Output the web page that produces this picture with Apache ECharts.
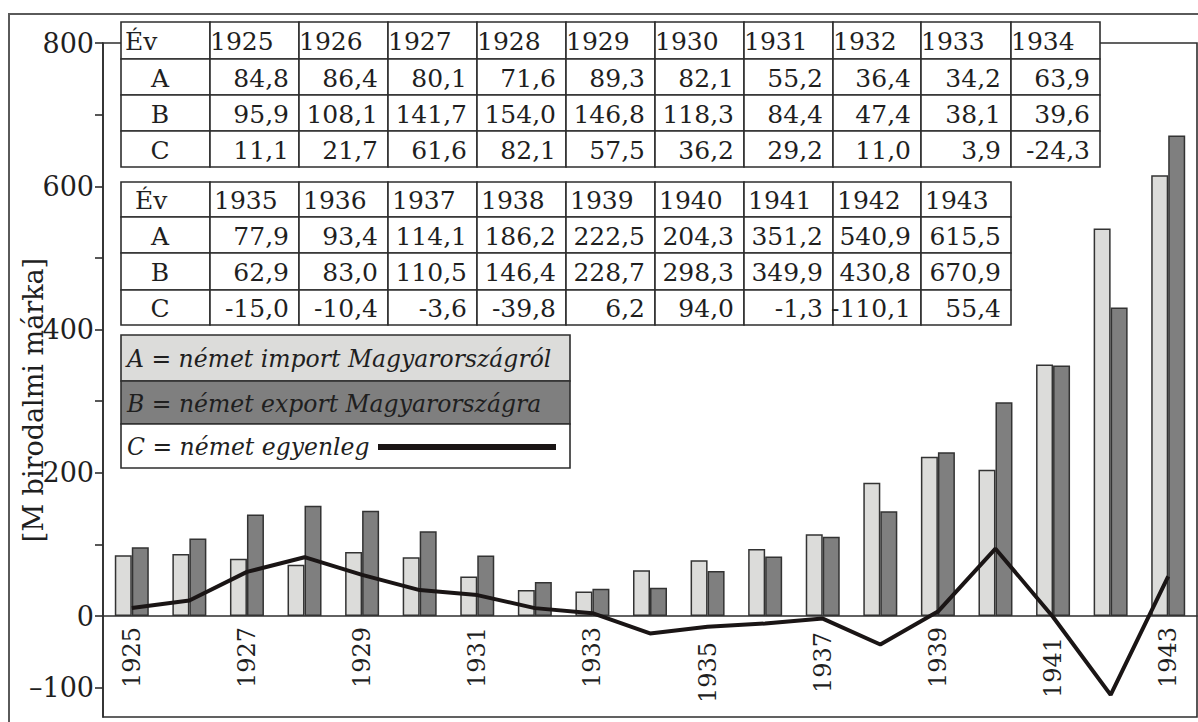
<!DOCTYPE html>
<html>
<head>
<meta charset="utf-8">
<script src="https://cdn.jsdelivr.net/npm/echarts@6/dist/echarts.min.js"></script>
<style>
html,body{margin:0;padding:0;background:#fff;}
#chart{width:1198px;height:722px;}
</style>
</head>
<body>
<div id="chart"></div>
<script>
// ---- data ----
const years = ['1925','1926','1927','1928','1929','1930','1931','1932','1933','1934','1935','1936','1937','1938','1939','1940','1941','1942','1943'];
const importA = [84.8, 86.4, 80.1, 71.6, 89.3, 82.1, 55.2, 36.4, 34.2, 63.9, 77.9, 93.4, 114.1, 186.2, 222.5, 204.3, 351.2, 540.9, 615.5];
const exportB = [95.9, 108.1, 141.7, 154.0, 146.8, 118.3, 84.4, 47.4, 38.1, 39.6, 62.9, 83.0, 110.5, 146.4, 228.7, 298.3, 349.9, 430.8, 670.9];
const balanceC = [11.1, 21.7, 61.6, 82.1, 57.5, 36.2, 29.2, 11.0, 3.9, -24.3, -15.0, -10.4, -3.6, -39.8, 6.2, 94.0, -1.3, -110.1, 55.4];
const yTickValues = [-100, 0, 100, 200, 300, 400, 500, 600, 700, 800];
const yLabelValues = [-100, 0, 200, 400, 600, 800];
const rowLabels = ['Év', 'A', 'B', 'C'];
const legendLabels = ['A = német import Magyarországról', 'B = német export Magyarországra', 'C = német egyenleg'];
const yAxisName = '[M birodalmi márka]';
const Y_MIN = -141, Y_MAX = 800;

// ---- layout ----
const SERIF = '"DejaVu Serif", "Liberation Serif", serif';
const INK = '#1f1f1f';
const LINE = '#2e2e2e';
const colEdges = [121, 210, 299, 388, 477, 566, 655, 744, 833, 921, 1011, 1100];
const table1Rows = [22, 59, 95, 131, 167];
const table2Rows = [182, 217, 253, 290, 325];
const labelShift = {'1931': 0, '1935': 15, '1937': 5, '1941': 10};

function fmt(v) { return v.toFixed(1).replace('.', ','); }

const graphics = [];
// outer frame
graphics.push({type:'rect', shape:{x:9, y:14, width:1200, height:720}, style:{fill:'none', stroke:'#5a5a5a', lineWidth:2}, z:1, silent:true});

function buildTable(start, count, rows, headerMode) {
  for (let r = 0; r < 4; r++) {
    const y0 = rows[r], h = rows[r+1] - rows[r];
    const yc = y0 + h / 2 + 1;
    for (let c = 0; c <= count; c++) {
      const x0 = colEdges[c], w = colEdges[c+1] - colEdges[c];
      graphics.push({type:'rect', shape:{x:x0, y:y0, width:w, height:h},
        style:{fill:'#fff', stroke:LINE, lineWidth:1.6}, z:100, silent:true});
      let text, x, align;
      if (c === 0) {
        text = rowLabels[r];
        if (r === 0) { x = x0 + (headerMode === 1 ? 4 : 14); align = 'left'; }
        else { x = x0 + 39; align = 'center'; }
      } else {
        const i = start + c - 1;
        if (r === 0) { text = years[i]; x = x0 + (headerMode === 1 ? 0 : 4); align = 'left'; }
        else {
          const arr = r === 1 ? importA : (r === 2 ? exportB : balanceC);
          text = fmt(arr[i]); x = x0 + w - 10; align = 'right';
        }
      }
      graphics.push({type:'text', x:x, y:yc, style:{text:text, fontFamily:SERIF, fontSize:25, fill:INK, align:align, verticalAlign:'middle'}, z:101, silent:true});
    }
  }
}
buildTable(0, 10, table1Rows, 1);
buildTable(10, 9, table2Rows, 2);

// legend box
const legRows = [335, 381, 424, 468];
const legFills = ['#dcdcda', '#7f7f7f', '#ffffff'];
for (let i = 0; i < 3; i++) {
  graphics.push({type:'rect', shape:{x:121, y:legRows[i], width:449, height:legRows[i+1]-legRows[i]},
    style:{fill:legFills[i], stroke:LINE, lineWidth:1.6}, z:100, silent:true});
  graphics.push({type:'text', x:127, y:(legRows[i]+legRows[i+1])/2 + 1,
    style:{text:legendLabels[i], fontFamily:SERIF, fontStyle:'italic', fontSize:23.5, fill:INK, align:'left', verticalAlign:'middle'}, z:101, silent:true});
}
graphics.push({type:'line', shape:{x1:378, y1:447, x2:556, y2:447}, style:{stroke:'#1a1515', lineWidth:6}, z:101, silent:true});

const rich = {};
Object.keys(labelShift).forEach(k => { rich['s' + k] = {padding:[0, labelShift[k], 0, 0], fontFamily:SERIF, fontSize:24, color:INK}; });

const chart = echarts.init(document.getElementById('chart'), null, {renderer:'svg'});
chart.setOption({
  animation:false,
  backgroundColor:'#fff',
  grid:{left:103, right:1, top:43, bottom:5, show:true, borderColor:LINE, borderWidth:1.6, backgroundColor:'transparent', containLabel:false, outerBoundsMode:'none'},
  xAxis:{
    type:'category', data:years, boundaryGap:true, position:'bottom', offset:0,
    axisLine:{onZero:false, lineStyle:{color:LINE, width:1.6}},
    axisTick:{show:false},
    axisLabel:{interval:1, rotate:90, margin:11, fontFamily:SERIF, fontSize:24, color:INK,
      formatter:function(v){ return labelShift.hasOwnProperty(v) ? '{s' + v + '|' + v + '}' : v; },
      rich:rich},
    splitLine:{show:false}
  },
  yAxis:{
    type:'value', min:Y_MIN, max:Y_MAX,
    name:yAxisName, nameLocation:'middle', nameGap:56, nameMoveOverlap:false,
    nameTextStyle:{fontFamily:SERIF, fontSize:27, color:INK, padding:[0, 40, 0, 0]},
    axisLine:{show:true, lineStyle:{color:LINE, width:1.6}},
    axisTick:{show:true, length:8, customValues:yTickValues, lineStyle:{color:LINE, width:1.6}},
    axisLabel:{customValues:yLabelValues, margin:9, fontFamily:SERIF, fontSize:27, color:INK,
      formatter:function(v){ return v < 0 ? '\u2013' + Math.abs(v) : String(v); }},
    splitLine:{show:false}
  },
  graphic:graphics,
  series:[
    {name:'A', type:'bar', data:importA, barWidth:17, barGap:'0%',
      itemStyle:{color:'#dcdcda', borderColor:'#333', borderWidth:1.5}, z:2},
    {name:'B', type:'bar', data:exportB, barWidth:17, barGap:'0%',
      itemStyle:{color:'#7f7f7f', borderColor:'#333', borderWidth:1.5}, z:2},
    {name:'C', type:'line', data:balanceC, symbol:'none', z:5,
      lineStyle:{color:'#1a1515', width:4}}
  ]
});
// move the category axis (line + labels) up onto the value-axis zero
const zeroPx = chart.convertToPixel({yAxisIndex:0}, 0);
const minPx = chart.convertToPixel({yAxisIndex:0}, Y_MIN);
chart.setOption({xAxis:{offset: zeroPx - minPx}});
</script>
</body>
</html>
